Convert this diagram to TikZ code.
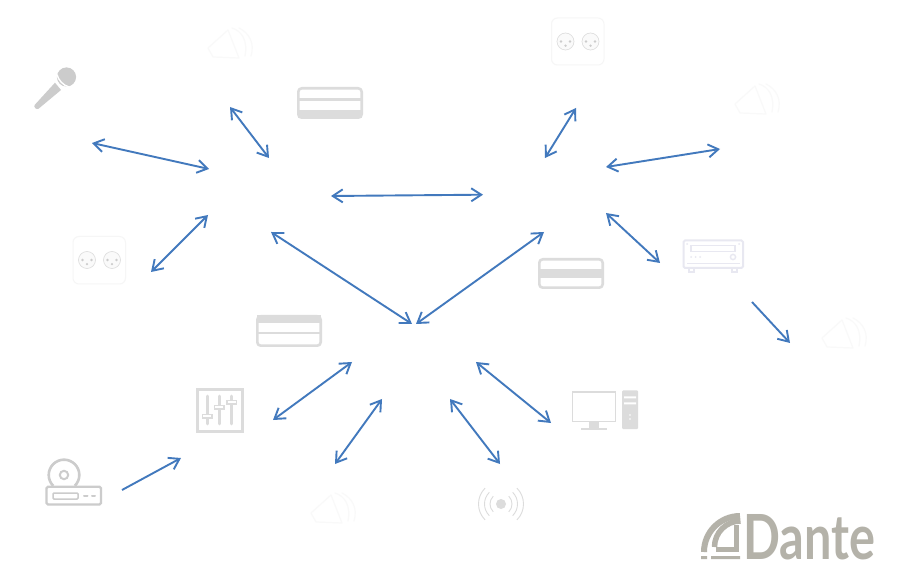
\documentclass[tikz,border=0pt]{standalone}
\usepackage{fontspec}
\usepackage{graphicx}
\setmainfont{Lato}
\usetikzlibrary{arrows.meta}
\definecolor{link}{HTML}{4279BD}
\definecolor{icona}{HTML}{DCDCDC}
\definecolor{iconb}{HTML}{CCCCCC}
\definecolor{iconc}{HTML}{E8E8F1}
\definecolor{iconf}{HTML}{F6F6F6}
\definecolor{iconh}{HTML}{F9F9F9}
\definecolor{logo}{HTML}{B4B2A9}
\tikzset{
  barb/.tip={Straight Barb[length=10pt,width=13pt,line width=1.9pt]},
  both/.style={link,line width=1.9pt,{barb}-{barb}},
  oneway/.style={link,line width=1.9pt,-{barb}},
  cardbox/.style={draw=icona,line width=2.6pt,rounded corners=3.5pt},
  panel/.style={draw=iconf,line width=1pt,rounded corners=6pt},
  faint/.style={draw=iconh,line width=1.2pt,line join=round,line cap=round},
}
\newcommand{\xlrsocket}[2]{%
  \draw[icona,line width=.6pt,fill=white!98!black] (#1,#2) circle (8.5);
  \fill[iconb] (#1-4.5,#2) circle (1.3) (#1+4.5,#2) circle (1.3) (#1,#2+4.2) circle (1.3);}
\newcommand{\hornicon}[2]{%
  \begin{scope}[shift={(#1,#2)}]
    \draw[faint] (-22,3) -- (-2,-15) -- (9,13) -- (-17,12) -- cycle;
    \draw[faint] (2,-17) .. controls (12,-14) and (18,-4) .. (15,11);
    \draw[faint] (9,-17) .. controls (19,-12) and (25,-2) .. (21,11);
  \end{scope}}
\begin{document}
\begin{tikzpicture}[x=1pt,y=-1pt]
\useasboundingbox[fill=white] (0,0) rectangle (898,572);

% ---------- connector ends
\coordinate (mic) at (92,143);      \coordinate (swL1) at (209,169);
\coordinate (spkA) at (230,107);    \coordinate (swL2) at (269,158);
\coordinate (xlrA) at (151,272);    \coordinate (swL3) at (208,215);
\coordinate (swL4) at (331,196);    \coordinate (swR1) at (483,194.7);
\coordinate (swL5) at (271,232);    \coordinate (hubA) at (412,324);
\coordinate (swR2) at (544,232);    \coordinate (hubB) at (416,324);
\coordinate (swR3) at (545,158);    \coordinate (xlrB) at (576,108);
\coordinate (swR4) at (606,167);    \coordinate (spkB) at (720,149);
\coordinate (swR5) at (606,213);    \coordinate (amp) at (660,263);
\coordinate (ampOut) at (752,302);  \coordinate (spkC) at (790,343);
\coordinate (mixer) at (273,420);   \coordinate (hubC) at (352,362);
\coordinate (spkD) at (335,464);    \coordinate (hubD) at (382,399);
\coordinate (hubE) at (450,399);    \coordinate (wifi) at (500,464);
\coordinate (hubF) at (476,362);    \coordinate (pc) at (551,423);
\coordinate (cd) at (122,490);      \coordinate (mixIn) at (181,458);

% ---------- microphone
\fill[iconb] (55,82.7) -- (61,90) -- (38.6,108.7) .. controls (36.5,110.3) and (33,106.8) .. (34.8,104.8) -- cycle;
\fill[iconb] (66.5,77) circle (9.6);
\draw[white,line width=1.4pt] (57,74.5) .. controls (58,79.5) and (63,85.5) .. (69,87);
\draw[white,line width=1pt] (55.5,81.5) -- (61.5,88.5);

% ---------- cards
\draw[cardbox] (298.3,88.3) rectangle (361.7,117.7);
\draw[icona,line width=2.4pt] (298,99.5) -- (362,99.5);
\fill[icona] (298,110) rectangle (362,118);
\draw[cardbox] (539.3,259.3) rectangle (602.7,287.7);
\fill[icona] (539,269) rectangle (603,278);
\draw[cardbox] (257.3,316.3) rectangle (320.7,345.7);
\fill[icona] (257,315.5) rectangle (321,323);
\draw[icona,line width=2.4pt] (257,333) -- (321,333);

% ---------- XLR panels
\draw[panel] (73,236.5) rectangle (125.5,284);
\xlrsocket{87}{260}\xlrsocket{112}{260}
\draw[panel] (551.5,18) rectangle (604,65);
\xlrsocket{565.5}{41.5}\xlrsocket{590.5}{41.5}

% ---------- amplifier
\draw[iconc,line width=2pt,rounded corners=1.5pt] (683.5,240.5) rectangle (743,268);
\draw[iconc,line width=1.6pt] (691,245.5) rectangle (735,251.5);
\draw[iconc,line width=1.6pt] (687,263.5) -- (740,263.5);
\draw[iconc,line width=1.4pt] (733,257) circle (2.6);
\fill[iconc] (691,257) circle (1) (695.5,257) circle (1) (700,257) circle (1);
\fill[iconc] (687,244) circle (1) (739,244) circle (1);
\draw[iconc,line width=1.6pt] (689,268) rectangle (694,272) (732,268) rectangle (737,272);

% ---------- mixer
\draw[icona,line width=3pt] (197,389.5) rectangle (242,431);
\draw[icona,line width=2.6pt,line cap=round] (207.3,396) -- (207.3,424) (219.3,396) -- (219.3,424) (231.7,396) -- (231.7,424);
\draw[icona,line width=1.4pt,fill=white] (202.5,414.5) rectangle (212,418) (214.7,405.5) rectangle (224,409) (227,400.3) rectangle (236.5,404);

% ---------- CD player
\draw[iconb,line width=2.6pt] (53.2,485.8) arc[start angle=135,delta angle=270,radius=15.3];
\draw[iconb,line width=2pt] (64,475) circle (4.2);
\draw[iconb,line width=2.4pt,rounded corners=1.5pt] (46.5,486.7) rectangle (101,504.5);
\draw[iconb,line width=1.5pt,rounded corners=1pt] (53,493) rectangle (78,499);
\draw[iconb,line width=2pt,line cap=round] (84,496) -- (87.5,496) (92,496) -- (95,496);

% ---------- computer
\draw[icona,line width=1.8pt] (572.5,392) rectangle (615.5,421.5);
\fill[icona] (589,422) rectangle (599,428);
\fill[icona] (581,427.5) rectangle (607,429.5);
\fill[icona,rounded corners=1pt] (622,390.5) rectangle (638,429);
\fill[white] (624,396.5) rectangle (636,398.5) (624,402.5) rectangle (636,404.5);
\fill[white] (630,415) circle (.8) (630,419) circle (.8);

% ---------- wireless
\fill[icona] (501,504) circle (5);
\foreach \r in {11,16.5,22.5}{
  \draw[icona,line width=.9pt] (501,504) ++(-45:\r) arc[start angle=-45,end angle=45,radius=\r];
  \draw[icona,line width=.9pt] (501,504) ++(135:\r) arc[start angle=135,end angle=225,radius=\r];
}

% ---------- faint speakers
\hornicon{230}{45}
\hornicon{757}{101}
\hornicon{333}{510}
\hornicon{844}{335}

% ---------- logo
\node[anchor=south west,inner sep=0pt,text=logo,font=\bfseries] (dante) at (743,560.5) {\resizebox{132pt}{45pt}{Dante}};
\draw[logo,line width=6pt] (704,552) arc[start angle=180,end angle=270,radius=36];
\draw[logo,line width=5.5pt] (714.5,547) arc[start angle=180,end angle=270,radius=26];
\draw[logo,line width=5pt] (716,549.5) -- (736.5,549.5) -- (736.5,525);
\fill[logo] (701,556) rectangle (707,559) (711,556) rectangle (740,559);

% ---------- connectors
\draw[both] (mic) -- (swL1);
\draw[both] (spkA) -- (swL2);
\draw[both] (xlrA) -- (swL3);
\draw[both] (swL4) -- (swR1);
\draw[both] (swL5) -- (hubA);
\draw[both] (swR2) -- (hubB);
\draw[both] (swR3) -- (xlrB);
\draw[both] (swR4) -- (spkB);
\draw[both] (swR5) -- (amp);
\draw[oneway] (ampOut) -- (spkC);
\draw[both] (mixer) -- (hubC);
\draw[both] (spkD) -- (hubD);
\draw[both] (hubE) -- (wifi);
\draw[both] (hubF) -- (pc);
\draw[oneway] (cd) -- (mixIn);
\end{tikzpicture}
\end{document}
